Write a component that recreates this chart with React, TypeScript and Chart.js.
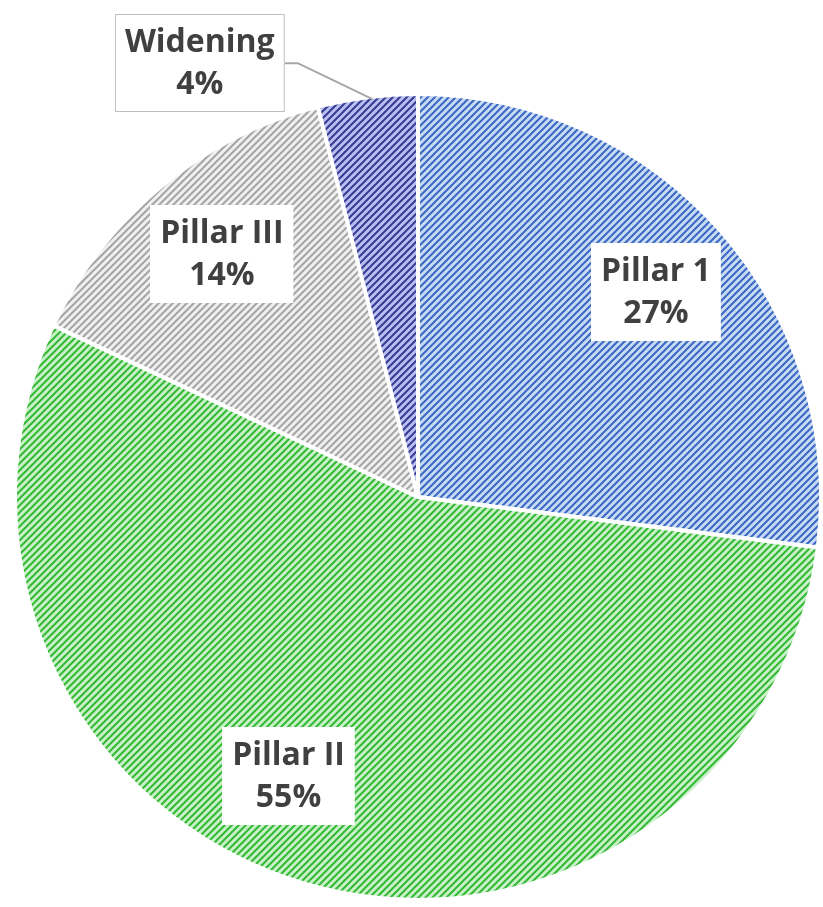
import React, { useEffect, useRef } from "react";
import { Chart, registerables } from "chart.js";

Chart.register(...registerables);

const categories = ["Pillar 1", "Pillar II", "Pillar III", "Widening"];
const shares = [27, 55, 14, 4];
const hatchBackgrounds = ["#c9daf5", "#c9f1c9", "#f0f0f0", "#babff0"];
const hatchLines = ["#3a68c2", "#35b935", "#a5a5a5", "#363b93"];
// label layout: angle nudge (degrees) from slice middle, radius fraction
const labelAngleNudge = [0.6, 8.7, 0.7, -19.5];
const labelRadiusFraction = [0.78, 0.763, 0.775, 1.205];
const labelOutside = [false, false, false, true];

function makeHatch(bg: string, line: string): CanvasPattern | string {
  const s = 7;
  const c = document.createElement("canvas");
  c.width = s;
  c.height = s;
  const ctx = c.getContext("2d");
  if (!ctx) return bg;
  ctx.fillStyle = bg;
  ctx.fillRect(0, 0, s, s);
  ctx.strokeStyle = line;
  ctx.lineWidth = 2;
  ctx.lineCap = "square";
  const segs = [
    [0, s, s, 0],
    [-2, 2, 2, -2],
    [s - 2, s + 2, s + 2, s - 2],
  ];
  for (const [x1, y1, x2, y2] of segs) {
    ctx.beginPath();
    ctx.moveTo(x1, y1);
    ctx.lineTo(x2, y2);
    ctx.stroke();
  }
  const p = ctx.createPattern(c, "repeat");
  return p || bg;
}

const FONT = "bold 32px 'Open Sans', 'Liberation Sans', sans-serif";
const LINE_H = 42;
const PAD_X = 10;
const PAD_Y = 10;

const labelPlugin = {
  id: "boxLabels",
  afterDatasetsDraw(chart: any) {
    const ctx: CanvasRenderingContext2D = chart.ctx;
    const meta = chart.getDatasetMeta(0);
    const values: number[] = chart.data.datasets[0].data;
    const total = values.reduce((a, b) => a + b, 0);
    ctx.save();
    ctx.font = FONT;
    meta.data.forEach((arc: any, i: number) => {
      const { x, y, outerRadius, startAngle, endAngle } = arc.getProps(
        ["x", "y", "outerRadius", "startAngle", "endAngle"],
        true
      );
      const mid = (startAngle + endAngle) / 2;
      const a = mid + (labelAngleNudge[i] * Math.PI) / 180;
      const r = outerRadius * labelRadiusFraction[i];
      const lx = x + Math.cos(a) * r;
      const ly = y + Math.sin(a) * r;
      const line1 = String(chart.data.labels[i]);
      const line2 = Math.round((values[i] / total) * 100) + "%";
      const w = Math.max(ctx.measureText(line1).width, ctx.measureText(line2).width) + PAD_X * 2;
      const h = LINE_H * 2 + PAD_Y * 2 - 6;
      const bx = Math.round(lx - w / 2);
      const by = Math.round(ly - h / 2);
      if (labelOutside[i]) {
        const ex = x + Math.cos(mid) * outerRadius;
        const ey = y + Math.sin(mid) * outerRadius;
        ctx.strokeStyle = "#a6a6a6";
        ctx.lineWidth = 2;
        ctx.beginPath();
        ctx.moveTo(bx + w, ly);
        ctx.lineTo(bx + w + 13, ly);
        ctx.lineTo(ex + 5, ey + 2);
        ctx.stroke();
      }
      ctx.fillStyle = "#ffffff";
      ctx.fillRect(bx, by, w, h);
      if (labelOutside[i]) {
        ctx.strokeStyle = "#bfbfbf";
        ctx.lineWidth = 1;
        ctx.strokeRect(bx + 0.5, by + 0.5, w - 1, h - 1);
      }
      ctx.fillStyle = "#404040";
      ctx.textAlign = "center";
      ctx.textBaseline = "middle";
      ctx.fillText(line1, lx, ly - LINE_H / 2 + 1);
      ctx.fillText(line2, lx, ly + LINE_H / 2 + 1);
    });
    ctx.restore();
  },
};

export default function App() {
  const ref = useRef<HTMLCanvasElement>(null);
  useEffect(() => {
    if (!ref.current) return;
    const fills = hatchBackgrounds.map((bg, i) => makeHatch(bg, hatchLines[i]));
    const chart = new Chart(ref.current, {
      type: "pie",
      data: {
        labels: categories,
        datasets: [
          {
            data: shares,
            backgroundColor: fills as any,
            borderColor: "#ffffff",
            borderWidth: 4,
          },
        ],
      },
      options: {
        responsive: false,
        animation: false,
        layout: { padding: { left: 13, right: 0, top: 92, bottom: 5 } },
        plugins: {
          legend: { display: false },
          tooltip: { enabled: false },
        },
      },
      plugins: [labelPlugin],
    });
    return () => chart.destroy();
  }, []);
  return (
    <div style={{ position: "absolute", left: 0, top: 0, width: 823, height: 907, background: "#fff" }}>
      <canvas ref={ref} width={823} height={907} style={{ display: "block" }} />
    </div>
  );
}
